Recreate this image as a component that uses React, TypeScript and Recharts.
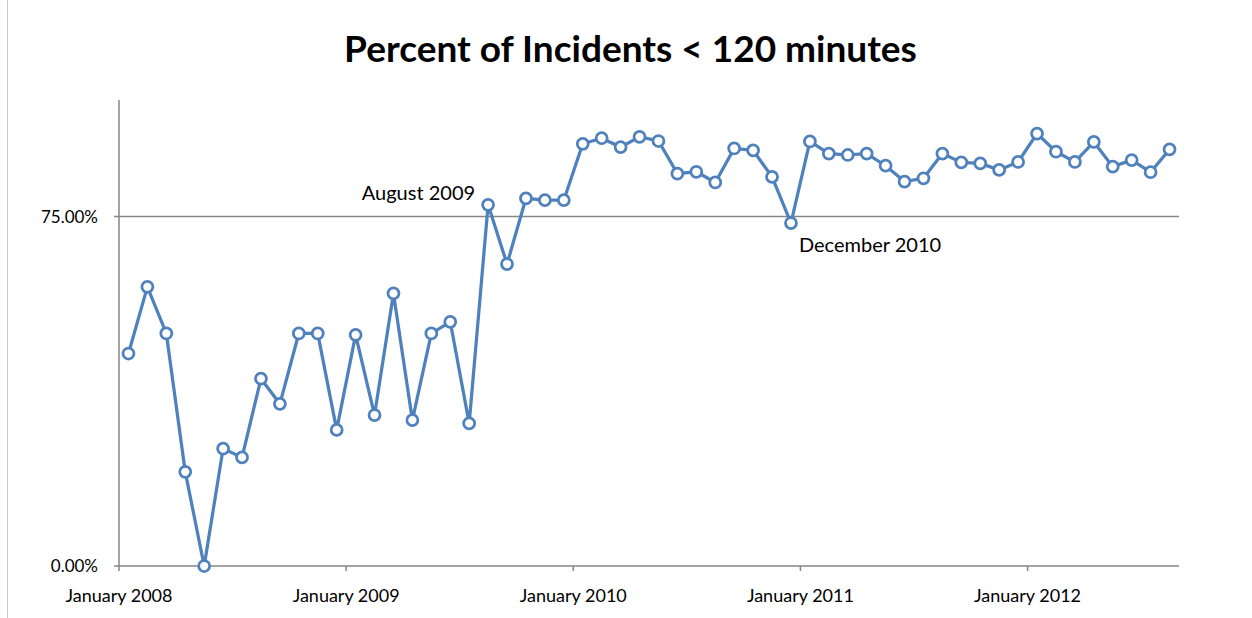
import { LineChart, Line, XAxis, YAxis, CartesianGrid, LabelList } from 'recharts'

const MONTH_NAMES = [
  'January', 'February', 'March', 'April', 'May', 'June',
  'July', 'August', 'September', 'October', 'November', 'December',
]
const START_YEAR = 2008

// percent of incidents resolved under 120 minutes, one value per month from Jan 2008
const percentUnder120 = [
  45.6, 59.9, 49.9, 20.2, 0, 25.2, 23.3, 40.2, 34.8, 49.9,
  49.9, 29.2, 49.6, 32.4, 58.5, 31.3, 49.9, 52.4, 30.6,
  77.5, 64.8, 78.9, 78.5, 78.5, 90.6, 91.8, 89.9, 92.1,
  91.2, 84.2, 84.6, 82.3, 89.6, 89.2, 83.5, 73.6, 91.1,
  88.5, 88.2, 88.5, 85.9, 82.5, 83.2, 88.5, 86.6, 86.4,
  85.0, 86.7, 92.8, 88.9, 86.7, 91.0, 85.7, 87.1, 84.5, 89.4,
]

const callouts = ['August 2009', 'December 2010']
const yTicks = [0, 75]
const targetLine = [75]
const yearTicks = [0, 12, 24, 36, 48]

const monthLabel = (i: number) =>
  `${MONTH_NAMES[i % 12]} ${START_YEAR + Math.floor(i / 12)}`

const data = percentUnder120.map((value, i) => {
  const label = monthLabel(i)
  return {
    pos: i + 0.5,
    month: label,
    value,
    note: callouts.includes(label) ? label : '',
  }
})

const FONT = 'Lato, "Open Sans", sans-serif'
const BLUE = '#4F81BD'
const AXIS = '#868686'

function Callout(props: any) {
  const { x, y, value, index } = props
  if (!value) return null
  // notes above the target line sit to the upper left, below it to the lower right
  const above = data[index].value >= 75
  return (
    <text
      x={above ? x - 13 : x + 8}
      y={above ? y - 13 : y + 21}
      textAnchor={above ? 'end' : 'start'}
      dominantBaseline="central"
      fontFamily={FONT}
      fontSize={20}
      fill="#000"
    >
      {value}
    </text>
  )
}

export default function App() {
  return (
    <div style={{ position: 'fixed', left: 0, top: 0, width: 1252, height: 618, background: '#fff' }}>
      <div style={{ position: 'absolute', left: 7, top: 0, width: 1, height: 618, background: '#c8c8c8' }} />
      <div
        style={{
          position: 'absolute', left: 0, top: 26, width: 1261, textAlign: 'center',
          fontFamily: FONT, fontWeight: 700, fontSize: 37, color: '#000', lineHeight: '44px',
        }}
      >
        Percent of Incidents &lt; 120 minutes
      </div>
      <LineChart
        width={1252}
        height={618}
        data={data}
        margin={{ top: 100, right: 73, bottom: 0, left: 8 }}
        style={{ position: 'absolute', left: 0, top: 0 }}
      >
        <CartesianGrid vertical={false} horizontalValues={targetLine} stroke={AXIS} strokeWidth={1.5} />
        <XAxis
          dataKey="pos"
          type="number"
          domain={[0, 56]}
          ticks={yearTicks}
          tickFormatter={(v: number) => monthLabel(v)}
          height={52}
          stroke={AXIS}
          strokeWidth={1.5}
          tickSize={5}
          tickMargin={18}
          tick={{ fill: '#000', fontFamily: FONT, fontSize: 18 }}
          interval={0}
        />
        <YAxis
          domain={[0, 100]}
          ticks={yTicks}
          tickFormatter={(v: number) => `${v.toFixed(2)}%`}
          width={111}
          stroke={AXIS}
          strokeWidth={1.5}
          tickSize={5}
          tickMargin={16}
          tick={{ fill: '#000', fontFamily: FONT, fontSize: 17 }}
          interval={0}
        />
        <Line
          type="linear"
          dataKey="value"
          stroke={BLUE}
          strokeWidth={3.25}
          dot={{ r: 5.5, fill: '#fff', stroke: BLUE, strokeWidth: 2.75 }}
          isAnimationActive={false}
        >
          <LabelList dataKey="note" content={Callout} />
        </Line>
      </LineChart>
    </div>
  )
}
